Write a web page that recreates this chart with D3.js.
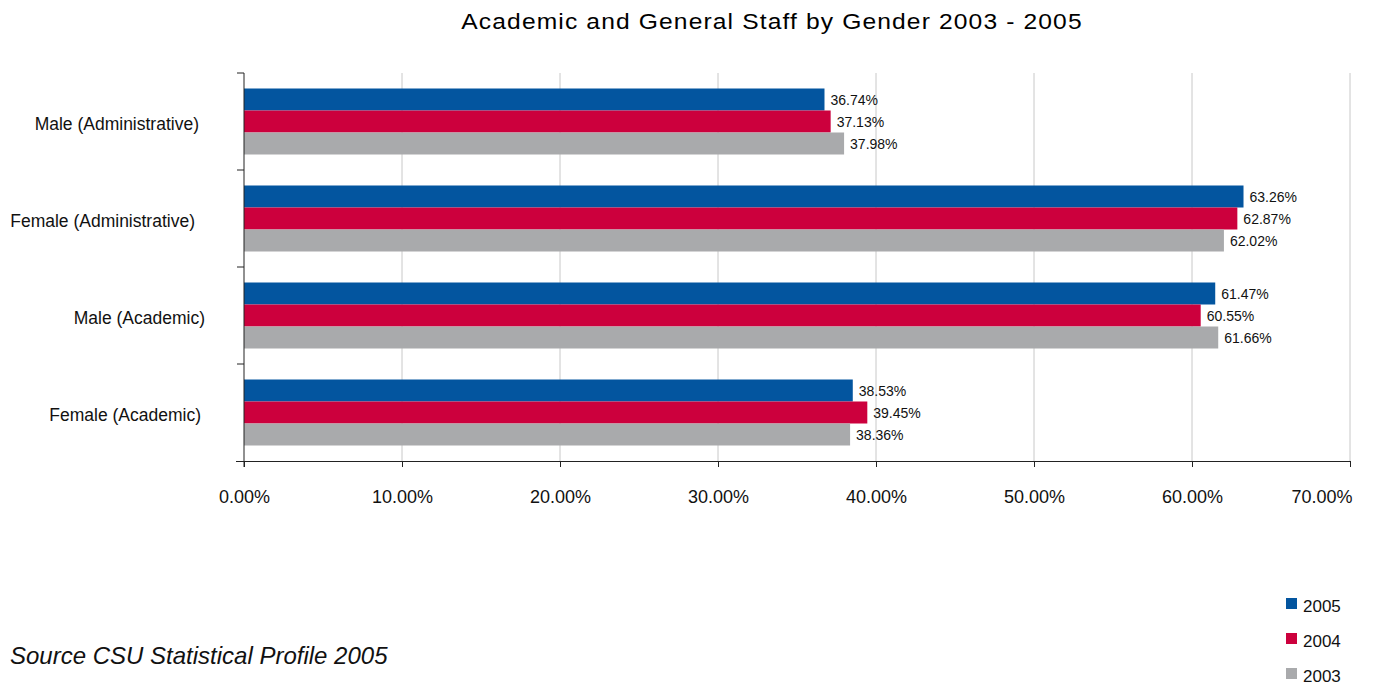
<!DOCTYPE html>
<html>
<head>
<meta charset="utf-8">
<script src="https://cdn.jsdelivr.net/npm/d3@7"></script>
<style>
  body { margin: 0; background: #fff; font-family: "Liberation Sans", Arial, sans-serif; }
  .grid line { stroke: #c8c8c8; }
</style>
</head>
<body>
<svg id="chart"></svg>
<script>
const categories = ['Male (Administrative)', 'Female (Administrative)', 'Male (Academic)', 'Female (Academic)'];
const years = ['2005', '2004', '2003'];
const values2005 = [36.74, 63.26, 61.47, 38.53];
const values2004 = [37.13, 62.87, 60.55, 39.45];
const values2003 = [37.98, 62.02, 61.66, 38.36];
const xTicks = [0, 10, 20, 30, 40, 50, 60, 70];
const colors = ['#03559f', '#cc003d', '#a9aaac'];

const seriesValues = [values2005, values2004, values2003];

const W = 1399, H = 686;
const svg = d3.select('#chart')
.attr('width', W)
.attr('height', H);

const plotLeft = 244, plotRight = 1350, plotTop = 73, plotBottom = 461;

const x = d3.scaleLinear()
.domain([0, 70])
.range([plotLeft, plotRight]);

const y = d3.scaleBand()
.domain(categories)
.range([plotTop, plotBottom]);

const yInner = d3.scaleBand()
.domain(years)
.range([15.5, y.bandwidth() - 15.5]);

// title (the original is stretched sideways a bit)
svg.append('text')
.attr('transform', 'translate(772, 29) scale(1.12, 1)')
.attr('text-anchor', 'middle')
.style('font-size', '22px')
.style('letter-spacing', '1px')
.style('fill', '#000')
.text('Academic and General Staff by Gender 2003 - 2005');

// vertical gridlines
svg.append('g')
.attr('class', 'grid')
.selectAll('line')
.data(xTicks.slice(1))
.enter()
.append('line')
.attr('x1', d => x(d))
.attr('x2', d => x(d))
.attr('y1', plotTop)
.attr('y2', plotBottom);

// bars
years.forEach((yr, i) => {
  svg.append('g')
  .selectAll('rect')
  .data(categories)
  .enter()
  .append('rect')
  .attr('x', x(0))
  .attr('y', (c) => y(c) + yInner(yr))
  .attr('width', (c, j) => x(seriesValues[i][j]) - x(0))
  .attr('height', yInner.bandwidth())
  .attr('fill', colors[i]);

  svg.append('g')
  .selectAll('text')
  .data(categories)
  .enter()
  .append('text')
  .attr('x', (c, j) => x(seriesValues[i][j]) + 6)
  .attr('y', c => y(c) + yInner(yr) + yInner.bandwidth() / 2 + 5)
  .style('font-size', '14px')
  .style('fill', '#111')
  .text((c, j) => seriesValues[i][j].toFixed(2) + '%');
});

// x axis
const xAxis = svg.append('g')
.attr('transform', `translate(0, ${plotBottom})`)
.call(d3.axisBottom(x).tickValues(xTicks).tickSize(6).tickSizeOuter(0).tickFormat(d => d.toFixed(2) + '%'));
xAxis.select('.domain').attr('d', `M${plotLeft - 8},0.5H${plotRight}`).attr('stroke', '#222');
xAxis.selectAll('.tick line').attr('stroke', '#222');
xAxis.selectAll('.tick text')
.attr('y', 29)
.style('font-family', '"Liberation Sans", Arial, sans-serif')
.style('font-size', '18px')
.style('fill', '#111');
// last label sits pulled in at the right edge
xAxis.selectAll('.tick text')
.filter(d => d === 70)
.attr('text-anchor', 'end')
.attr('x', 2);

// y axis
const yAxis = svg.append('g')
.attr('transform', `translate(${plotLeft}, 0)`);
yAxis.append('line')
.attr('x1', 0).attr('x2', 0)
.attr('y1', plotTop).attr('y2', plotBottom + 6)
.attr('stroke', '#222');
yAxis.selectAll('.ytick')
.data(categories.map(c => y(c)))
.enter()
.append('line')
.attr('class', 'ytick')
.attr('x1', -7).attr('x2', 0)
.attr('y1', d => d).attr('y2', d => d)
.attr('stroke', '#222');

svg.append('g')
.selectAll('text')
.data(categories)
.enter()
.append('text')
.attr('x', (c, i) => [199, 195, 205, 201][i])
.attr('y', c => y(c) + y.bandwidth() / 2 + 8)
.attr('text-anchor', 'end')
.style('font-size', '17.5px')
.style('fill', '#111')
.text(c => c);

// legend
const legend = svg.append('g');
years.forEach((yr, i) => {
  legend.append('rect')
  .attr('x', 1286)
  .attr('y', 598 + i * 35)
  .attr('width', 11)
  .attr('height', 11)
  .attr('fill', colors[i]);
  legend.append('text')
  .attr('x', 1303)
  .attr('y', 612 + i * 35)
  .style('font-size', '17px')
  .style('fill', '#111')
  .text(yr);
});

// source note
svg.append('text')
.attr('x', 10)
.attr('y', 664)
.style('font-size', '24px')
.style('font-style', 'italic')
.style('fill', '#111')
.text('Source CSU Statistical Profile 2005');
</script>
</body>
</html>
